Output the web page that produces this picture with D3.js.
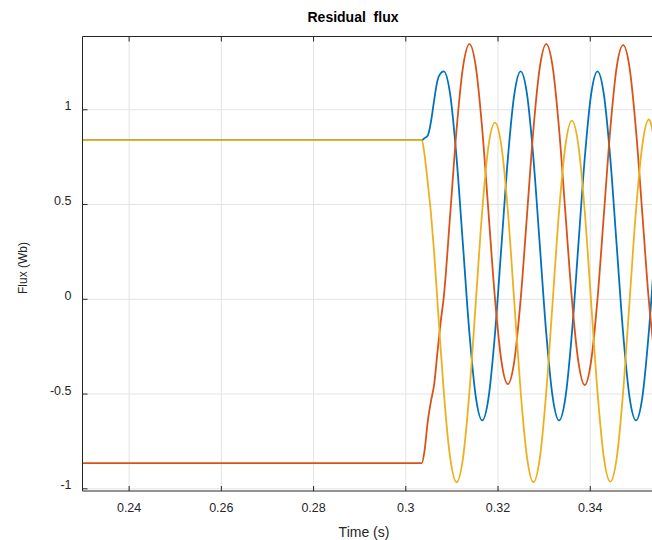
<!DOCTYPE html>
<html>
<head>
<meta charset="utf-8">
<title>Residual flux</title>
<script src="https://cdn.jsdelivr.net/npm/d3@7"></script>
<style>
  body { margin: 0; background: #fff; }
  svg { display: block; font-family: "Liberation Sans", Arial, Helvetica, sans-serif; }
</style>
</head>
<body>
<svg width="652" height="540"></svg>
<script>

// time samples (s), shared by the three phases
var timeS = [0.23, 0.3036, 0.30418, 0.30488, 0.30557, 0.30627, 0.30696, 0.30766, 0.30835,
    0.30974, 0.31113, 0.31252, 0.31391, 0.31530, 0.31668, 0.31807, 0.31946, 0.32085, 0.32224,
    0.32363, 0.32502, 0.32641, 0.32779, 0.32918, 0.33057, 0.33196, 0.33335, 0.33474, 0.33613,
    0.33752, 0.33891, 0.34029, 0.34168, 0.34307, 0.34446, 0.34585, 0.34724, 0.34863, 0.35002,
    0.35141, 0.35279, 0.35418];

// flux per phase (Wb)
var fluxA = [0.837, 0.837, 0.848, 0.862, 0.935, 1.05, 1.15, 1.19, 1.200,
    1.077, 0.740, 0.279, -0.182, -0.519, -0.642, -0.519, -0.182, 0.279, 0.740,
    1.077, 1.200, 1.077, 0.740, 0.279, -0.182, -0.519, -0.642, -0.519, -0.182,
    0.279, 0.740, 1.077, 1.200, 1.077, 0.740, 0.279, -0.182, -0.519, -0.642,
    -0.519, -0.182, 0.279];

var fluxB = [-0.867, -0.867, -0.80, -0.645, -0.54, -0.45, -0.285, -0.125, 0.01,
    0.447, 0.896, 1.224, 1.344, 1.224, 0.896, 0.447, -0.002, -0.330, -0.450,
    -0.330, -0.002, 0.447, 0.896, 1.224, 1.344, 1.224, 0.896, 0.447, -0.002,
    -0.330, -0.455, -0.330, -0.002, 0.447, 0.896, 1.224, 1.338, 1.220, 0.893,
    0.447, -0.002, -0.330];

var fluxC = [0.837, 0.837, 0.76, 0.61, 0.45, 0.24, -0.01, -0.26, -0.491,
    -0.840, -0.968, -0.840, -0.491, -0.014, 0.463, 0.812, 0.930, 0.805, 0.463,
    -0.014, -0.491, -0.840, -0.968, -0.840, -0.491, -0.014, 0.463, 0.812, 0.940,
    0.812, 0.463, -0.014, -0.491, -0.840, -0.965, -0.840, -0.491, -0.014, 0.463,
    0.812, 0.946, 0.812];

var seriesColors = ["#0072BD", "#D95319", "#EDB120"];

var xTicks = [0.24, 0.26, 0.28, 0.30, 0.32, 0.34];
var xTickLabels = ["0.24", "0.26", "0.28", "0.3", "0.32", "0.34"];
var yTicks = [-1, -0.5, 0, 0.5, 1];
var yTickLabels = ["-1", "-0.5", "0", "0.5", "1"];


var svg = d3.select("svg");
var plotLeft = 82.5, plotRight = 652, plotTop = 36.5, plotBottom = 491;

var x = d3.scaleLinear().domain([0.23, 0.3535]).range([plotLeft, plotRight]);
var y = d3.scaleLinear().domain([-1.0142, 1.384]).range([plotBottom, plotTop]);

// grid
svg.append("g")
    .attr("transform", "translate(0," + plotBottom + ")")
    .call(d3.axisBottom(x).tickValues(xTicks).tickSize(-(plotBottom - plotTop)).tickFormat(""))
    .call(function (g) { g.select(".domain").remove(); })
    .selectAll("line").attr("stroke", "#e3e3e3");

svg.append("g")
    .attr("transform", "translate(" + plotLeft + ",0)")
    .call(d3.axisLeft(y).tickValues(yTicks).tickSize(-(plotRight - plotLeft)).tickFormat(""))
    .call(function (g) { g.select(".domain").remove(); })
    .selectAll("line").attr("stroke", "#e3e3e3");

// curves
svg.append("clipPath").attr("id", "plotclip")
    .append("rect")
    .attr("x", plotLeft).attr("y", plotTop)
    .attr("width", plotRight - plotLeft).attr("height", plotBottom - plotTop);

var line = d3.line()
    .x(function (d) { return x(d[0]); })
    .y(function (d) { return y(d[1]); })
    .curve(d3.curveMonotoneX);

var allFlux = [fluxA, fluxB, fluxC];
svg.append("g").attr("clip-path", "url(#plotclip)")
    .selectAll("path")
    .data(allFlux)
    .enter()
    .append("path")
    .attr("fill", "none")
    .attr("stroke", function (d, i) { return seriesColors[i]; })
    .attr("stroke-width", 1.8)
    .attr("stroke-linejoin", "round")
    .attr("d", function (vals) {
        return line(timeS.map(function (t, i) { return [t, vals[i]]; }));
    });

// frame (right side is cut off in the picture)
svg.append("path")
    .attr("d", "M" + (plotRight + 2) + "," + plotTop + "H" + plotLeft + "V" + plotBottom + "H" + (plotRight + 2))
    .attr("fill", "none")
    .attr("stroke", "#262626")
    .attr("stroke-width", 1);

// axes with inward ticks
var xAxis = svg.append("g")
    .attr("transform", "translate(0," + plotBottom + ")")
    .call(d3.axisBottom(x).tickValues(xTicks).tickSize(-5).tickPadding(12)
        .tickFormat(function (d, i) { return xTickLabels[i]; }));

var xTop = svg.append("g")
    .attr("transform", "translate(0," + plotTop + ")")
    .call(d3.axisTop(x).tickValues(xTicks).tickSize(-5).tickFormat(""));

var yAxis = svg.append("g")
    .attr("transform", "translate(" + plotLeft + ",0)")
    .call(d3.axisLeft(y).tickValues(yTicks).tickSize(-5).tickPadding(11)
        .tickFormat(function (d, i) { return yTickLabels[i]; }));

[xAxis, xTop, yAxis].forEach(function (g) {
    g.select(".domain").remove();
    g.selectAll("line").attr("stroke", "#262626");
    g.selectAll("text")
        .attr("fill", "#262626")
        .style("font-size", "12.5px")
        .style("font-family", "'Liberation Sans', Arial, sans-serif");
});
yAxis.selectAll("text").attr("dy", "0.05em");

// titles
svg.append("text")
    .attr("x", 353).attr("y", 22)
    .attr("text-anchor", "middle")
    .style("font-size", "14px")
    .style("font-weight", "bold")
    .style("white-space", "pre")
    .text("Residual  flux");

svg.append("text")
    .attr("x", 364).attr("y", 536.5)
    .attr("text-anchor", "middle")
    .attr("fill", "#262626")
    .style("font-size", "14px")
    .text("Time (s)");

svg.append("text")
    .attr("transform", "translate(26.5,268) rotate(-90)")
    .attr("text-anchor", "middle")
    .attr("fill", "#262626")
    .style("font-size", "12px")
    .text("Flux (Wb)");

</script>
</body>
</html>
